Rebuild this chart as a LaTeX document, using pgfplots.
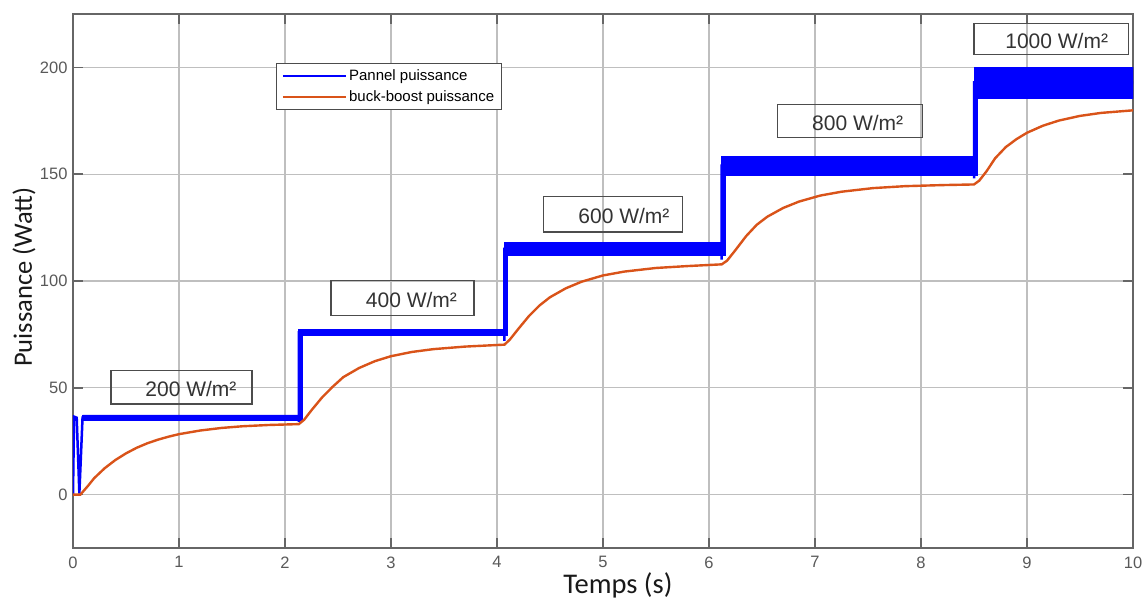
\documentclass[border=0pt]{standalone}
\usepackage{pgfplots}
\pgfplotsset{compat=1.18}
\usepackage{fontspec}
\setmainfont{Liberation Sans}
\newfontfamily\carlito{Carlito}
\definecolor{mblue}{RGB}{0,0,255}
\definecolor{morange}{RGB}{217,83,25}
\begin{document}
\begin{tikzpicture}
\begin{axis}[
 scale only axis, width=1060pt, height=534pt,
 xmin=0, xmax=10, ymin=-25, ymax=225,
 xtick={0,1,...,10}, ytick={0,50,...,200},
 grid=major, major grid style={line width=1.2pt, black!25},
 axis line style={line width=1.5pt, black!60},
 major tick style={line width=1.5pt, black!60}, major tick length=10pt,
 tick align=inside,
 /pgf/number format/assume math mode=true,
 ticklabel style={font=\fontsize{16.5}{18}\selectfont, text=black!65},
 xticklabel style={yshift=-5pt},
 yticklabel style={xshift=-2pt},
 xlabel={Temps (s)}, ylabel={Puissance (Watt)},
 xlabel style={font=\carlito\fontsize{28.5}{32}\selectfont, text=black!90, at={(axis description cs:0.514,0)}, anchor=base, yshift=-45pt},
 ylabel style={font=\carlito\fontsize{26.5}{30}\selectfont, text=black!90, at={(axis description cs:-0.0387,0.507)}, anchor=base},
 legend style={at={(axis description cs:0.1915,0.9082)}, anchor=north west, draw=black!70, line width=1.2pt, font=\fontsize{15}{17}\selectfont, inner xsep=5pt, inner ysep=4pt, row sep=5pt, cells={anchor=west}},
 legend image code/.code={\draw[#1] (0pt,0pt) -- (63pt,0pt);},
]
% noisy band of the panel power
\addplot[draw=mblue, line width=0.6pt, fill=mblue, forget plot] coordinates {
 (0.09,37.3) (2.13,37.3) (2.13,77.5) (4.07,77.5) (4.07,118) (6.12,118) (6.12,158.5) (8.5,158.5) (8.5,200) (10,200)
 (10,185.5) (8.53,185.5) (8.53,149.5) (6.15,149.5) (6.15,112) (4.10,112) (4.10,74.5) (2.16,74.5) (2.16,35) (0.09,35) (0.09,37.3)
};
\addplot[mblue, line width=2.5pt] coordinates {
 (0,0) (0.01,36.5) (0.035,36) (0.06,0.5) (0.09,36) (0.2,36) (2.13,36) (2.13,34) (2.13,76) (4.07,76) (4.07,72) (4.07,115)
 (6.12,115) (6.12,110) (6.12,154) (8.5,154) (8.5,148) (8.5,193) (10,193)
};
\addlegendentry{Pannel puissance}
\addplot[morange, line width=2.4pt] coordinates {
 (0,0) (0.07,0) (0.14,4) (0.2,7.7) (0.3,12.4) (0.4,16.2) (0.5,19.3) (0.6,21.9) (0.7,24) (0.8,25.7) (0.9,27.1) (1.0,28.3) (1.2,30.0) (1.4,31.2) (1.6,32.0) (1.85,32.6) (2.13,33.0)
 (2.18,35) (2.25,39.5) (2.35,45.5) (2.45,50.5) (2.55,55) (2.7,59.3) (2.85,62.5) (3.0,64.8) (3.2,66.8) (3.4,68.1) (3.7,69.3) (4.07,70.2)
 (4.12,72.5) (4.2,77.5) (4.3,83.5) (4.4,88.5) (4.5,92.4) (4.65,96.6) (4.8,99.7) (5.0,102.6) (5.2,104.4) (5.5,106.1) (5.8,107.0) (6.12,107.8)
 (6.17,109.5) (6.25,114.5) (6.35,121) (6.45,126.3) (6.55,130.1) (6.7,134.2) (6.85,137.2) (7.05,140.0) (7.25,141.8) (7.55,143.5) (7.85,144.4) (8.2,144.9) (8.5,145.2)
 (8.55,147) (8.62,151.5) (8.7,157.5) (8.8,162.7) (8.9,166.4) (9.0,169.4) (9.15,172.7) (9.3,175.1) (9.5,177.3) (9.7,178.7) (10,179.9)
};
\addlegendentry{buck-boost puissance}
% irradiance annotations
\draw[black!70, line width=1.2pt] (axis cs:0.358,42.4) rectangle (axis cs:1.689,58.2);
\node[font=\fontsize{21}{22}\selectfont, text=black!80] at (axis cs:1.113,49.4) {200 W/m²};
\draw[black!70, line width=1.2pt] (axis cs:2.434,83.9) rectangle (axis cs:3.783,100.2);
\node[font=\fontsize{21}{22}\selectfont, text=black!80] at (axis cs:3.193,91.0) {400 W/m²};
\draw[black!70, line width=1.2pt] (axis cs:4.437,122.9) rectangle (axis cs:5.752,139.5);
\node[font=\fontsize{21}{22}\selectfont, text=black!80] at (axis cs:5.198,130.3) {600 W/m²};
\draw[black!70, line width=1.2pt] (axis cs:6.644,167.1) rectangle (axis cs:8.016,182.7);
\node[font=\fontsize{21}{22}\selectfont, text=black!80] at (axis cs:7.403,174.0) {800 W/m²};
\draw[black!70, line width=1.2pt] (axis cs:8.5,205.9) rectangle (axis cs:9.959,220.7);
\node[font=\fontsize{21}{22}\selectfont, text=black!80] at (axis cs:9.280,212.5) {1000 W/m²};
\end{axis}
\pgfresetboundingbox
\path[use as bounding box] (-73pt,-50pt) rectangle (1073pt,548pt);
\end{tikzpicture}
\end{document}
